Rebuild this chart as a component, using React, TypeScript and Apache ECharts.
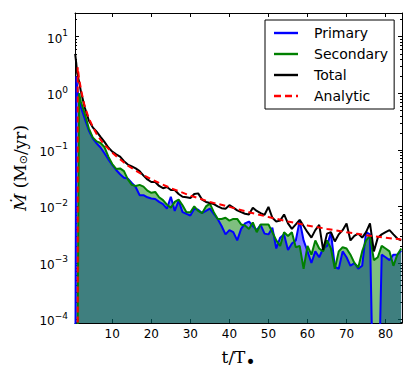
import React, { useEffect, useRef } from "react";
import * as echarts from "echarts";

// time in units of T_bullet
const times = [0.5, 0.8, 1, 1.5, 2, 3, 4, 5, 6, 7, 8, 9, 10, 11, 12, 13, 14, 15, 16, 17, 18, 19, 20, 21, 22, 23, 24, 25, 26, 27, 28, 29, 30, 31, 32, 33, 34, 35, 36, 37, 38, 39, 40, 41, 42, 43, 44, 45, 46, 47, 48, 49, 50, 51, 52, 53, 54, 55, 56, 57, 58, 59, 60, 61, 62, 63, 64, 65, 66, 67, 68, 69, 70, 71, 72, 73, 74, 75, 76, 77, 78, 79, 80, 81, 82, 83, 84];

const primary = [1e-6, 2.0, 1.3, 0.75,
  0.56, 0.35, 0.22, 0.16, 0.13, 0.11, 0.087, 0.068, 0.054,
  0.044, 0.037, 0.032, 0.031, 0.026, 0.022, 0.0158, 0.0158, 0.0145, 0.0138,
  0.0135, 0.012, 0.011, 0.0091, 0.0148, 0.0083, 0.0126, 0.0079, 0.0074, 0.0069,
  0.0091, 0.0087, 0.0076, 0.0083, 0.0091, 0.0074, 0.006, 0.0045, 0.0032, 0.0038,
  0.0035, 0.0025, 0.004, 0.005, 0.0054, 0.0045, 0.0038, 0.0047, 0.0033, 0.0032,
  0.0042, 0.0018, 0.0028, 0.0032, 0.0017, 0.0022, 0.0025, 0.0056, 0.0025, 0.0016,
  0.001, 0.0016, 0.00126, 0.0018, 0.002, 0.0035, 0.00085, 0.00079, 0.0016, 0.00126,
  0.00089, 0.001, 0.00079, 0.00089, 0.0035, 0.0032, 1e-6, 1e-6, 0.0014, 0.00126,
  0.00112, 0.0014, 0.0014, 0.00166];

const secondary = [1e-6, 1e-6, 1e-6, 1.0,
  0.7, 0.42, 0.24, 0.166, 0.141, 0.132, 0.112, 0.076, 0.056,
  0.046, 0.047, 0.042, 0.03, 0.024, 0.023, 0.024, 0.0224, 0.019, 0.0174,
  0.018, 0.0145, 0.0129, 0.0107, 0.0095, 0.012, 0.0132, 0.0105, 0.0079, 0.0079,
  0.01, 0.0083, 0.0076, 0.01, 0.0112, 0.0079, 0.006, 0.006, 0.0063, 0.0056,
  0.006, 0.006, 0.0048, 0.0046, 0.004, 0.0052, 0.0035, 0.0048, 0.0048, 0.0048,
  0.0035, 0.0025, 0.002, 0.0035, 0.003, 0.0035, 0.0019, 0.002, 0.00079, 0.002,
  0.0014, 0.0025, 0.0018, 0.0016, 0.0025, 0.0018, 0.00079, 0.0016, 0.0019, 0.0018,
  0.0014, 0.001, 0.00083, 0.0016, 0.0025, 0.003, 0.00112, 0.00126, 0.002, 0.0018,
  0.0016, 0.00089, 0.0014, 0.0018];

const total = [5.0, 3.3, 2.3, 1.6,
  1.05, 0.55, 0.33, 0.25, 0.21, 0.17, 0.138, 0.11, 0.093,
  0.083, 0.076, 0.063, 0.055, 0.051, 0.047, 0.042, 0.035, 0.03, 0.027,
  0.027, 0.023, 0.021, 0.022, 0.0195, 0.0195, 0.0166, 0.0148, 0.0145, 0.0141,
  0.0166, 0.017, 0.0132, 0.012, 0.0115, 0.011, 0.01, 0.0093, 0.0091, 0.0105,
  0.0095, 0.0085, 0.0079, 0.0074, 0.0072, 0.0095, 0.0083, 0.0076, 0.0071, 0.0098,
  0.0063, 0.0054, 0.0056, 0.0072, 0.005, 0.004, 0.0048, 0.0058, 0.0045, 0.0035,
  0.0028, 0.0038, 0.0047, 0.0017, 0.0033, 0.0035, 0.0024, 0.0032, 0.0038, 0.005,
  0.0025, 0.003, 0.0033, 0.0028, 0.0035, 0.005, 0.0016, 0.0028, 0.0032, 0.0035,
  0.0038, 0.0032, 0.0027, 0.0025];

const analyticTimes = [1.15, 1.15, 1.5, 2, 2.5, 3, 4, 5, 6, 7, 8, 10, 12, 14, 17, 20, 25, 30, 35, 40, 45, 50, 55, 60, 65, 70, 75, 80, 84];
const analytic = [1e-6, 2.9, 1.82, 1.17, 0.79, 0.575, 0.363, 0.257, 0.19, 0.151, 0.123, 0.089, 0.068, 0.0525, 0.039, 0.03, 0.021, 0.0155, 0.012, 0.0098, 0.0079, 0.0065, 0.0054, 0.0046, 0.004, 0.0035, 0.0031, 0.0028, 0.0026];

const xTicks = [10, 20, 30, 40, 50, 60, 70, 80];
const yMajorTicks = [1e-4, 1e-3, 1e-2, 1e-1, 1, 10];
const yMinorMantissas = [2, 3, 4, 5, 6, 7, 8, 9];
const yMinorDecades = [1e-5, 1e-4, 1e-3, 1e-2, 1e-1, 1, 10];

const X_MIN = 0.46;
const X_MAX = 84.2;
const Y_MIN = 8.67e-5;
const Y_MAX = 26.3;

const seriesNames = ["Primary", "Secondary", "Total", "Analytic"];
const SOLID_ICON = "path://M0,0H24V2.4H0Z";
const DASHED_ICON = "path://M0,0H7V2.4H0Z M11,0H18V2.4H11Z M22,0H24V2.4H22Z";

const pairs = (xs: number[], ys: number[]) => xs.map((x, i) => [x, ys[i]]);

export default function App() {
  const ref = useRef<HTMLDivElement>(null);

  useEffect(() => {
    if (!ref.current) return;
    const chart = echarts.init(ref.current, null, { renderer: "svg" });

    const yMinorTicks: number[] = [];
    yMinorDecades.forEach((d) =>
      yMinorMantissas.forEach((m) => {
        const v = +(m * d).toPrecision(3);
        if (v >= Y_MIN && v <= Y_MAX) yMinorTicks.push(v);
      })
    );

    const supExp = (v: number) => {
      const e = Math.round(Math.log10(v));
      return e < 0 ? "\u2212" + Math.abs(e) : String(e);
    };

    const axisLineStyle = { show: true, lineStyle: { color: "#000", width: 1 } };

    const xCommon = {
      type: "value" as const,
      min: X_MIN,
      max: X_MAX,
      splitLine: { show: false },
      axisLine: axisLineStyle,
    };

    const yCommon = {
      type: "log" as const,
      logBase: 10,
      min: Y_MIN,
      max: Y_MAX,
      splitLine: { show: false },
      minorTick: { show: false },
    };

    const option: any = {
      animation: false,
      backgroundColor: "#fff",
      grid: { left: 75, top: 13, width: 327, height: 310, containLabel: false },
      xAxis: [
        {
          ...xCommon,
          position: "bottom",
          axisTick: { show: true, inside: true, length: 4, customValues: xTicks, lineStyle: { color: "#000" } },
          axisLabel: { show: true, customValues: xTicks, color: "#000", fontSize: 12, fontFamily: "DejaVu Sans", margin: 5 },
          name: "t/T{s|\u2022}",
          nameLocation: "middle",
          nameGap: 21,
          nameTextStyle: {
            color: "#000",
            fontFamily: "DejaVu Serif",
            fontSize: 17,
            rich: {
              s: { fontSize: 17, color: "#000", fontFamily: "DejaVu Sans", padding: [9, 0, 0, 0] },
            },
          },
        },
        {
          ...xCommon,
          position: "top",
          axisTick: { show: true, inside: true, length: 4, customValues: xTicks, lineStyle: { color: "#000" } },
          axisLabel: { show: false },
        },
      ],
      yAxis: [
        {
          ...yCommon,
          position: "left",
          axisLine: axisLineStyle,
          axisTick: { show: true, inside: true, length: 4, customValues: yMajorTicks, lineStyle: { color: "#000" } },
          axisLabel: {
            show: true,
            customValues: yMajorTicks,
            margin: 7,
            formatter: (v: number) => `{b|10}{e|${supExp(v)}}`,
            rich: {
              b: { fontSize: 12, fontFamily: "DejaVu Sans", color: "#000", lineHeight: 16, verticalAlign: "bottom" },
              e: { fontSize: 9, fontFamily: "DejaVu Sans", color: "#000", lineHeight: 9, verticalAlign: "top" },
            },
          },
          name: "{i|\u1E40}{r| (M}{s|\u2299}{r|/yr)}",
          nameLocation: "middle",
          nameGap: 38,
          nameRotate: 90,
          nameTextStyle: {
            color: "#000",
            rich: {
              i: { fontSize: 17, fontFamily: "DejaVu Serif", fontStyle: "italic", color: "#000" },
              r: { fontSize: 17, fontFamily: "DejaVu Serif", color: "#000" },
              s: { fontSize: 11, fontFamily: "DejaVu Sans", color: "#000", padding: [6, 0, 0, 0] },
            },
          },
        },
        {
          ...yCommon,
          position: "left",
          axisLine: { show: false },
          axisTick: { show: true, inside: true, length: 2, customValues: yMinorTicks, lineStyle: { color: "#000" } },
          axisLabel: { show: false },
        },
        {
          ...yCommon,
          position: "right",
          axisLine: axisLineStyle,
          axisTick: { show: true, inside: true, length: 4, customValues: yMajorTicks, lineStyle: { color: "#000" } },
          axisLabel: { show: false },
        },
        {
          ...yCommon,
          position: "right",
          axisLine: { show: false },
          axisTick: { show: true, inside: true, length: 2, customValues: yMinorTicks, lineStyle: { color: "#000" } },
          axisLabel: { show: false },
        },
      ],
      legend: {
        data: seriesNames.map((n) => ({ name: n, icon: n === "Analytic" ? DASHED_ICON : SOLID_ICON })),
        orient: "vertical",
        left: 265,
        top: 20,
        itemWidth: 24,
        itemHeight: 2.4,
        itemGap: 7,
        padding: [6, 6, 6, 9],
        borderColor: "#000",
        borderWidth: 1,
        borderRadius: 0,
        backgroundColor: "#fff",
        selectedMode: false,
        textStyle: { fontFamily: "DejaVu Sans", fontSize: 14, lineHeight: 14, color: "#000", padding: [0, 0, 0, 11] },
      },
      series: [
        {
          name: "primaryFill",
          type: "line",
          data: pairs(times, primary),
          symbol: "none",
          silent: true,
          lineStyle: { width: 0, opacity: 0 },
          areaStyle: { color: "#0000ff", opacity: 0.5, origin: "start" },
          z: 1,
        },
        {
          name: "secondaryFill",
          type: "line",
          data: pairs(times, secondary),
          symbol: "none",
          silent: true,
          lineStyle: { width: 0, opacity: 0 },
          areaStyle: { color: "#008000", opacity: 0.5, origin: "start" },
          z: 2,
        },
        {
          name: "Primary",
          type: "line",
          data: pairs(times, primary),
          symbol: "none",
          color: "#0000ff",
          lineStyle: { color: "#0000ff", width: 2 },
          z: 3,
        },
        {
          name: "Secondary",
          type: "line",
          data: pairs(times, secondary),
          symbol: "none",
          color: "#008000",
          lineStyle: { color: "#008000", width: 2 },
          z: 4,
        },
        {
          name: "Total",
          type: "line",
          data: pairs(times, total),
          symbol: "none",
          color: "#000000",
          lineStyle: { color: "#000000", width: 2 },
          z: 5,
        },
        {
          name: "Analytic",
          type: "line",
          data: pairs(analyticTimes, analytic),
          symbol: "none",
          color: "#ff0000",
          lineStyle: { color: "#ff0000", width: 2, type: [6, 4] },
          z: 6,
        },
      ],
    };

    chart.setOption(option);
    return () => chart.dispose();
  }, []);

  return <div ref={ref} style={{ position: "absolute", left: 0, top: 0, width: 415, height: 378 }} />;
}
